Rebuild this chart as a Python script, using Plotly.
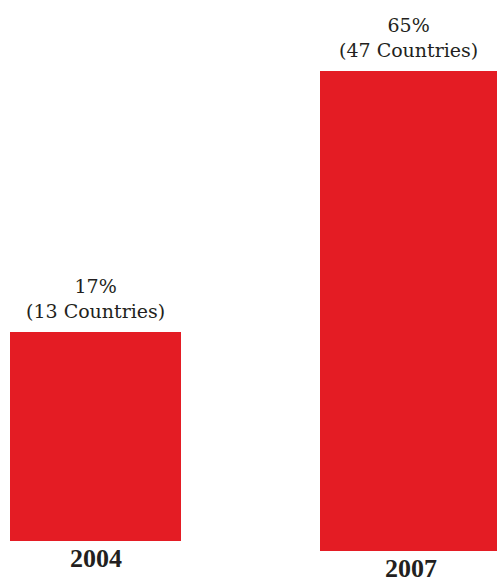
import plotly.graph_objects as go

years = ["2004", "2007"]
percents = [17, 65]
countries = [13, 47]
labels = [f"{p}%<br>({c} Countries)" for p, c in zip(percents, countries)]

W, H = 497, 579
RED = "#E41C24"
TXT = "#231F20"

# pixel boxes for each bar panel: (left, right, top, bottom)
boxes = [(10, 181, 332, 541), (320, 497, 71, 551)]
year_xshift = [0, 2]

fig = go.Figure()
for i, (yr, p, lab) in enumerate(zip(years, percents, labels)):
    xa = "x" if i == 0 else f"x{i+1}"
    ya = "y" if i == 0 else f"y{i+1}"
    fig.add_trace(go.Bar(
        x=[yr], y=[p], width=[1], marker=dict(color=RED, line=dict(width=0)),
        xaxis=xa, yaxis=ya, showlegend=False, hoverinfo="skip",
    ))
    l, r, t, b = boxes[i]
    xk = "xaxis" if i == 0 else f"xaxis{i+1}"
    yk = "yaxis" if i == 0 else f"yaxis{i+1}"
    fig.update_layout({
        xk: dict(domain=[l / W, r / W], anchor=ya, type="category", range=[-0.5, 0.5],
                 showgrid=False, zeroline=False, showline=False, ticks="",
                 showticklabels=False),
        yk: dict(domain=[(H - b) / H, (H - t) / H], anchor=xa, range=[0, p],
                 showgrid=False, zeroline=False, showline=False, showticklabels=False, ticks=""),
    })
    fig.add_annotation(
        x=0, y=p, xref=xa, yref=ya, text=lab, showarrow=False,
        yanchor="bottom", yshift=8,
        font=dict(family="DejaVu Serif", size=19, color=TXT),
    )
    fig.add_annotation(
        x=0, y=0, xref=xa, yref=ya, text=f"<b>{yr}</b>", showarrow=False,
        yanchor="top", yshift=-1, xshift=year_xshift[i],
        font=dict(family="Liberation Serif", size=26, color=TXT),
    )

fig.update_layout(
    width=W, height=H, margin=dict(l=0, r=0, t=0, b=0),
    paper_bgcolor="white", plot_bgcolor="white", bargap=0,
)
fig.write_html("out.html", config={"displayModeBar": False},
               post_script="document.body.style.margin='0';")
